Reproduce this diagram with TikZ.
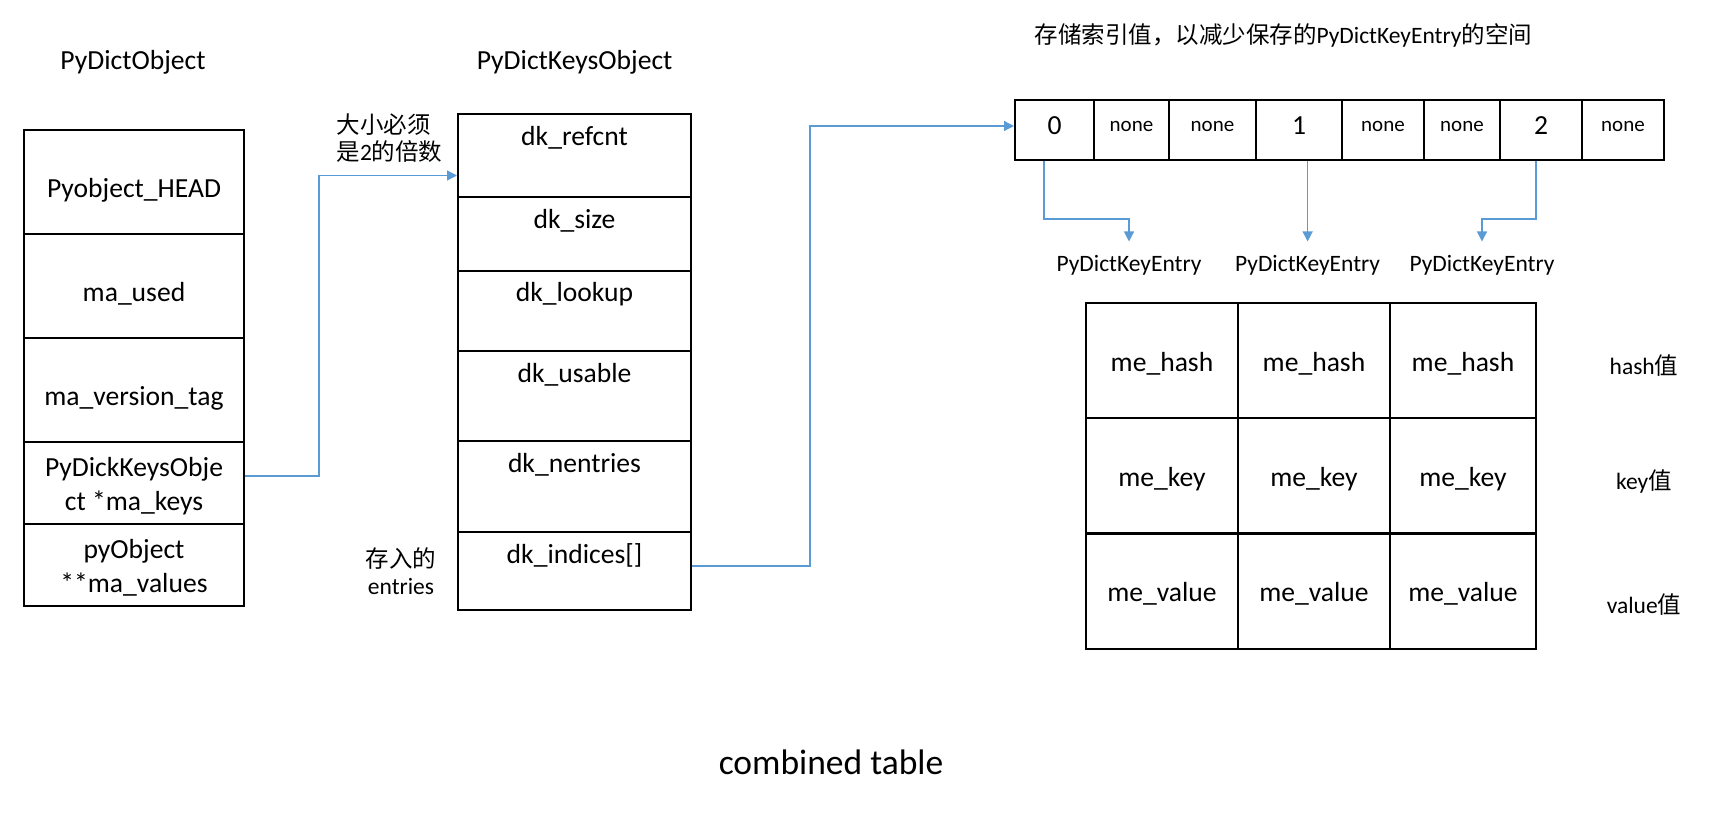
\documentclass[tikz,border=0pt]{standalone}
\usepackage{fontspec}
\setmainfont{Carlito}
\newfontfamily\cjk{Noto Sans CJK SC}
\usetikzlibrary{arrows.meta}
\definecolor{linkblue}{HTML}{5B9BD5}
\tikzset{
    big/.style={font=\fontsize{27.6}{34.5}\selectfont},
    small/.style={font=\fontsize{23.5}{27}\selectfont},
    cell/.style={draw, line width=2pt, inner sep=0pt, big},
    idxnum/.style={font=\fontsize{27.6}{30}\selectfont, text depth=8pt},
    idxnone/.style={font=\fontsize{21}{24}\selectfont, text depth=8pt},
    link/.style={draw=linkblue, line width=1.2pt}
}
\begin{document}
\begin{tikzpicture}[x=1pt, y=-1pt, >={Triangle[length=10pt, width=10pt]}]
\useasboundingbox (0,0) rectangle (1717,827);
% titles
\node[big] (tdict) at (133,62.5) {PyDictObject};
\node[big] (tkeys) at (574.6,62.5) {PyDictKeysObject};
\node[small, anchor=west] (tidx) at (1031,35) {{\cjk 存储索引值，以减少保存的}PyDictKeyEntry{\cjk 的空间}};
% PyDictObject
\foreach \y/\h/\d/\t [count=\i] in {182/104/8/Pyobject\_HEAD, 286/104/8/ma\_used, 390/104/8/ma\_version\_tag, 483/82/3/{PyDickKeysObje\\ct *ma\_keys}, 565/82/3/{pyObject\\**ma\_values}}
{
    \node[cell, minimum width=220pt, minimum height=\h pt] (o\i) at (134,\y) {};
    \node[big, align=center] (ot\i) at ([yshift=-\d pt]o\i.center) {\t};
}
% PyDictKeysObject
\foreach \top/\h/\t [count=\i] in {113/83/dk\_refcnt, 196/74/dk\_size, 270/80/dk\_lookup, 350/90/dk\_usable, 440/91/dk\_nentries, 531/78/dk\_indices[]}
{
    \node[cell, anchor=north, minimum width=233pt, minimum height=\h pt] (k\i) at (574.5,\top) {};
    \node[big] (kt\i) at ([yshift=-24.5pt]k\i.north) {\t};
}
\node[small, align=left, anchor=west] (nsize) at (333,138.4) {{\cjk 大小必须}\\{\cjk 是}2{\cjk 的倍数}};
\node[small, align=center] (nent) at (401,571) {{\cjk 存入的}\\entries};
% dk_indices
\foreach \n/\x/\w/\t in {1/1054.5/79/0, 4/1299/86/1, 7/1541/82/2}
{
    \node[cell, idxnum, minimum width=\w pt, minimum height=60pt] (a\n) at (\x,130) {\t};
}
\foreach \n/\x/\w in {2/1131.5/75, 3/1212.5/87, 5/1383/82, 6/1462/76, 8/1623/82}
{
    \node[cell, idxnone, minimum width=\w pt, minimum height=60pt] (a\n) at (\x,130) {none};
}
\foreach \n/\x in {1/1129, 2/1307.6, 3/1482}
{
    \node[small] (e\n) at (\x,265) {PyDictKeyEntry};
}
% entries
\foreach \r/\y/\t in {1/360.5/me\_hash, 2/475.5/me\_key, 3/591/me\_value}
{
    \foreach \c/\x/\w in {1/1162/152, 2/1314/152, 3/1463/146}
    {
        \node[cell, text height=25pt, text depth=4pt, minimum width=\w pt, minimum height=115pt] (m\r\c) at (\x,\y) {\t};
    }
}
\node[small] (vh) at (1644,366) {hash{\cjk 值}};
\node[small] (vk) at (1644,482) {key{\cjk 值}};
\node[small] (vv) at (1644,605) {value{\cjk 值}};
\node[font=\fontsize{35.5}{40}\selectfont] (ct) at (831,762) {combined table};
% links
\draw[link,->] ([yshift=7pt]o4.east) -- ++(74,0) |- ([yshift=-20pt]k1.west);
\draw[link,->] ([yshift=5pt]k6.east) -- ++(118,0) |- ([yshift=4pt]a1.west);
\draw[link,->] ([xshift=-10.5pt]a1.south) -- ++(0,58) -| ([yshift=10pt]e1.north);
\draw[link,->] ([xshift=8.6pt]a4.south) -- ([yshift=10pt]e2.north);
\draw[link,->] ([xshift=-5pt]a7.south) -- ++(0,58) -| ([yshift=10pt]e3.north);
\end{tikzpicture}
\end{document}
